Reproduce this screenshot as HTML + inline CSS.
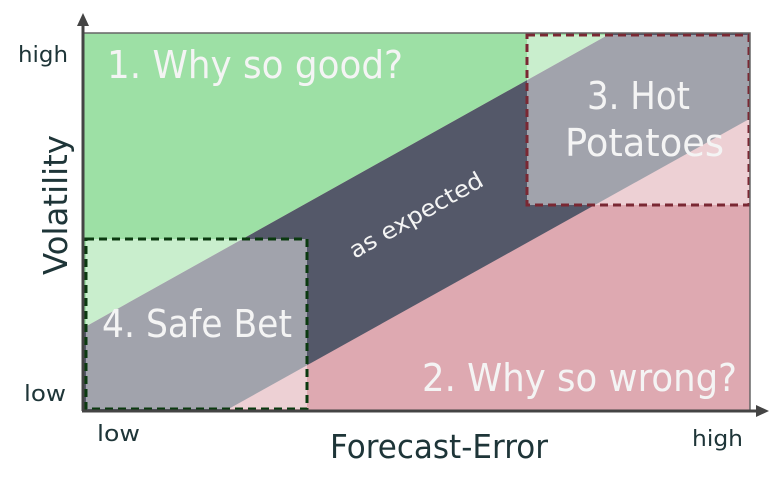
<!DOCTYPE html>
<html><head><meta charset="utf-8"><style>
html,body{margin:0;padding:0;background:#fff;width:782px;height:484px;overflow:hidden}
svg{display:block}
text{font-family:"DejaVu Sans","Liberation Sans",sans-serif}
</style></head><body>
<svg width="782" height="484" viewBox="0 0 782 484" xmlns="http://www.w3.org/2000/svg">
<defs>
<clipPath id="c"><rect x="83" y="33" width="667" height="377"/></clipPath>
</defs>
<g clip-path="url(#c)">
<rect x="83" y="33" width="667" height="377" fill="#dea9b1"/>
<polygon points="83,328 760,-50 760,113 83,490" fill="#545869"/>
<polygon points="83,33 760,33 760,-50 83,328" fill="#9de0a5"/>
<rect x="86" y="239" width="221" height="170" fill="#fff" fill-opacity="0.45"/>
<rect x="527" y="35" width="222" height="170" fill="#fff" fill-opacity="0.45"/>
</g>
<rect x="86" y="239" width="221" height="170" fill="none" stroke="#0b3a10" stroke-width="3" stroke-dasharray="8,5"/>
<rect x="527" y="35" width="222" height="170" fill="none" stroke="#7a2833" stroke-width="3" stroke-dasharray="8,5"/>
<path d="M83 33 H750 V410" fill="none" stroke="#666" stroke-width="1.5"/>
<line x1="83" y1="24" x2="83" y2="411" stroke="#444" stroke-width="3"/>
<polygon points="83,13 77,26 89,26" fill="#444"/>
<line x1="82" y1="411" x2="758" y2="411" stroke="#444" stroke-width="3"/>
<polygon points="769,411 756,405 756,417" fill="#444"/>
<g fill="#f4f4f4">
<text x="107" y="78" font-size="38" textLength="296" lengthAdjust="spacingAndGlyphs">1. Why so good?</text>
<text x="587" y="109" font-size="38" textLength="103" lengthAdjust="spacingAndGlyphs">3. Hot</text>
<text x="565" y="156" font-size="38" textLength="159" lengthAdjust="spacingAndGlyphs">Potatoes</text>
<text x="102" y="337" font-size="38" textLength="190" lengthAdjust="spacingAndGlyphs">4. Safe Bet</text>
<text x="422" y="391" font-size="38" textLength="315" lengthAdjust="spacingAndGlyphs">2. Why so wrong?</text>
<text x="341" y="223" font-size="23" textLength="150" lengthAdjust="spacingAndGlyphs" transform="rotate(-29.6 416 215)">as expected</text>
</g>
<g fill="#1e3538">
<text x="18" y="62" font-size="22" textLength="50" lengthAdjust="spacingAndGlyphs">high</text>
<text x="24" y="401" font-size="22" textLength="42" lengthAdjust="spacingAndGlyphs">low</text>
<text x="97" y="441" font-size="22" textLength="43" lengthAdjust="spacingAndGlyphs">low</text>
<text x="692" y="446" font-size="22" textLength="51" lengthAdjust="spacingAndGlyphs">high</text>
<text x="330" y="458" font-size="33" textLength="218" lengthAdjust="spacingAndGlyphs">Forecast-Error</text>
<text x="-70" y="0" font-size="33" textLength="140" lengthAdjust="spacingAndGlyphs" transform="translate(67 205) rotate(-90)">Volatility</text>
</g>
</svg>
</body></html>
